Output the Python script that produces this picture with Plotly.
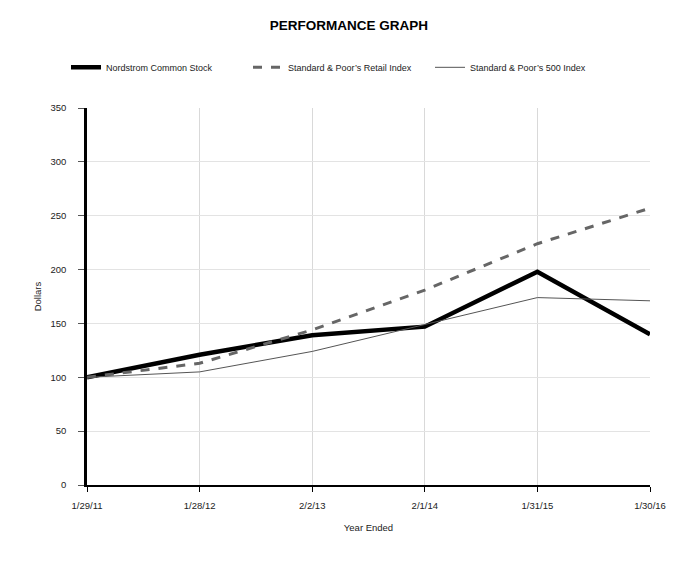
import plotly.graph_objects as go

dates = ["1/29/11", "1/28/12", "2/2/13", "2/1/14", "1/31/15", "1/30/16"]
nordstrom = [100, 121, 139, 147, 198, 140]
sp_retail = [100, 113, 144, 181, 224, 257]
sp_500 = [100, 105, 124, 149, 174, 171]
y_ticks = [0, 50, 100, 150, 200, 250, 300, 350]

FONT = "Liberation Sans Narrow, Arial Narrow, Liberation Sans, Arial, sans-serif"

fig = go.Figure()
fig.add_trace(go.Scatter(x=dates, y=nordstrom, mode="lines", name="Nordstrom Common Stock",
                         line=dict(color="#000000", width=4.5)))
fig.add_trace(go.Scatter(x=dates, y=sp_retail, mode="lines", name="Standard & Poor\u2019s Retail Index",
                         line=dict(color="#666666", width=3, dash="dash")))
fig.add_trace(go.Scatter(x=dates, y=sp_500, mode="lines", name="Standard & Poor\u2019s 500 Index",
                         line=dict(color="#555555", width=1)))

fig.update_layout(
    width=682, height=565,
    margin=dict(l=79, r=40, t=100, b=88),
    paper_bgcolor="white", plot_bgcolor="white",
    font=dict(family=FONT, size=9.5, color="#222222"),
    title=dict(text="<b>PERFORMANCE GRAPH</b>", x=0.5, xanchor="center", y=0.97, yanchor="middle",
               font=dict(family=FONT, size=13.5, color="#000000")),
    legend=dict(orientation="h", x=58/682, xanchor="left", xref="container", y=0.895, yref="container",
                yanchor="middle", entrywidth=137, entrywidthmode="pixels",
                font=dict(family=FONT, size=9, color="#222222"), bgcolor="rgba(0,0,0,0)"),
    showlegend=True,
)

fig.update_xaxes(type="category", range=[0, 5], showgrid=True, gridcolor="#d9d9d9", gridwidth=1,
                 showline=True, linecolor="#000000", linewidth=1.5, ticks="outside", ticklen=5,
                 tickcolor="#000000", tickfont=dict(size=9.5, color="#222222"), ticklabelstandoff=6,
                 title=dict(text="Year Ended", font=dict(size=9.5, color="#222222"), standoff=14),
                 zeroline=False)
fig.update_yaxes(range=[0, 350], tickvals=y_ticks, showgrid=True, gridcolor="#e3e3e3", gridwidth=1,
                 showline=True, linecolor="#000000", linewidth=2.5, ticks="outside", ticklen=6,
                 tickcolor="#555555", tickfont=dict(size=9.5, color="#222222"), ticklabelstandoff=10,
                 title=dict(text="Dollars", font=dict(size=9.5, color="#222222"), standoff=8),
                 zeroline=False)

fig.write_html("out.html")
